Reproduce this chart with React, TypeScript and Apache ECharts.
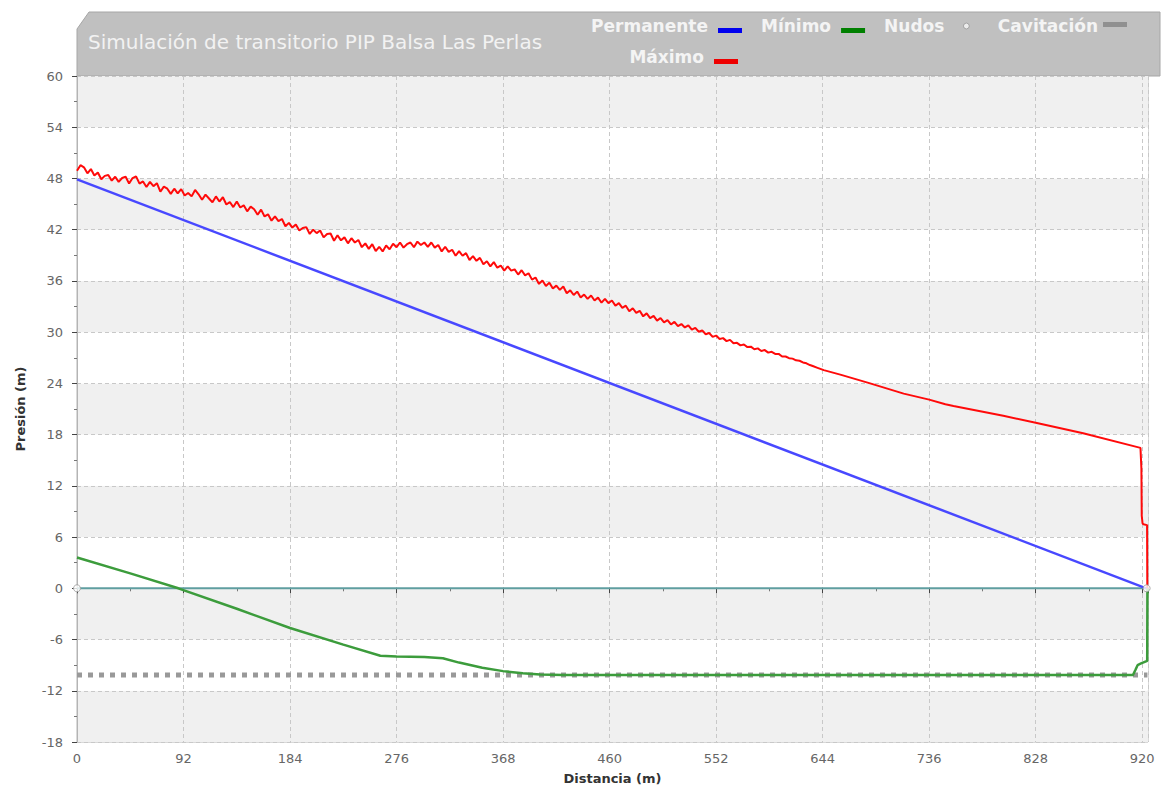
import React, { useEffect, useRef } from 'react';
import * as echarts from 'echarts';

const TITLE = 'Simulación de transitorio PIP Balsa Las Perlas';
const X_NAME = 'Distancia (m)';
const Y_NAME = 'Presión (m)';
const X_TICKS = [0, 92, 184, 276, 368, 460, 552, 644, 736, 828, 920];
const X_MIN = 0;
const X_MAX = 925;
const X_STEP = 92;
const Y_MIN = -18;
const Y_MAX = 60;
const Y_STEP = 6;

const SERIES_NAMES = ['Permanente', 'Mínimo', 'Nudos', 'Cavitación', 'Máximo'];

const permanente: [number, number][] = [[0, 47.9], [923.5, 0]];

const minimo: [number, number][] = [
  [0, 3.6], [46, 1.75], [87.5, 0], [138, -2.4], [184, -4.65], [230, -6.6],
  [262, -7.9], [276, -8.0], [300, -8.05], [316, -8.2], [330, -8.7], [350, -9.3],
  [368, -9.7], [385, -9.95], [400, -10.1], [420, -10.15], [912, -10.15],
  [914, -9.6], [916, -9.0], [919, -8.8], [924.3, -8.5], [924.5, 0],
];

const nudos: [number, number][] = [[0, 0], [923.8, 0]];

const cavitacion: [number, number][] = [[0, -10.15], [924.5, -10.15]];

const cotaCero: [number, number][] = [[0, 0], [924.5, 0]];

const maximo: [number, number][] = [
  [0, 48.9], [3, 49.55], [6, 49.3], [9, 48.6], [12, 49.1], [15, 48.35], [18, 48.7], [21, 47.9],
  [24, 48.3], [27, 48.4], [30, 47.75], [33, 48.2], [36, 47.6], [39, 48.05], [42, 48.2], [45, 47.4],
  [48, 48.05], [51, 48.25], [54, 47.4], [57, 47.65], [60, 47.0], [63, 47.6], [66, 47.1], [69, 47.45],
  [72, 46.45], [75, 47.05], [78, 46.8], [81, 46.2], [84, 46.8], [87, 46.25], [90, 46.75], [93, 46.0],
  [96, 46.3], [99, 45.9], [102, 46.65], [105, 46.15], [108, 45.5], [111, 46.1], [114, 45.65], [117, 45.2],
  [120, 45.9], [123, 45.3], [126, 45.8], [129, 44.95], [132, 45.25], [135, 44.65], [138, 45.3], [141, 44.6],
  [144, 44.85], [147, 44.15], [150, 44.7], [153, 44.4], [156, 43.75], [159, 44.35], [162, 43.55], [165, 43.8],
  [168, 43.05], [171, 43.55], [174, 43.0], [177, 43.25], [180, 42.4], [183, 42.8], [186, 42.25], [189, 42.6],
  [192, 41.9], [195, 42.2], [198, 42.3], [201, 41.5], [204, 42.0], [207, 41.6], [210, 41.9], [213, 41.1],
  [216, 41.5], [219, 41.55], [222, 40.7], [225, 41.35], [228, 40.75], [231, 41.1], [234, 40.4], [237, 41.0],
  [240, 40.5], [243, 40.8], [246, 39.95], [249, 40.4], [252, 39.75], [255, 40.3], [258, 39.5], [261, 40.0],
  [264, 39.45], [267, 40.15], [270, 39.7], [273, 40.35], [276, 39.95], [279, 40.5], [282, 39.9], [285, 40.3],
  [288, 40.5], [291, 39.95], [294, 40.6], [297, 40.2], [300, 40.5], [303, 40.0], [306, 40.5], [309, 39.9],
  [312, 40.2], [315, 39.45], [318, 40.0], [321, 39.4], [324, 39.65], [327, 38.95], [330, 39.5], [333, 38.95],
  [336, 39.25], [339, 38.45], [342, 38.9], [345, 38.35], [348, 38.7], [351, 37.95], [354, 38.3], [357, 37.7],
  [360, 38.2], [363, 37.55], [366, 37.8], [369, 37.2], [372, 37.7], [375, 37.2], [378, 37.35], [381, 36.75],
  [384, 37.25], [387, 36.65], [390, 36.9], [393, 36.15], [396, 36.4], [399, 35.65], [402, 36.05], [405, 35.4],
  [408, 35.8], [411, 35.1], [414, 35.45], [417, 34.95], [420, 35.35], [423, 34.55], [426, 34.9], [429, 34.35],
  [432, 34.75], [435, 34.05], [438, 34.4], [441, 33.9], [444, 34.3], [447, 33.7], [450, 34.05], [453, 33.45],
  [456, 33.9], [459, 33.4], [462, 33.7], [465, 33.1], [468, 33.4], [471, 32.85], [474, 33.1], [477, 32.45],
  [480, 32.8], [483, 32.25], [486, 32.5], [489, 31.85], [492, 32.2], [495, 31.65], [498, 31.9], [501, 31.35],
  [504, 31.65], [507, 31.15], [510, 31.4], [513, 30.9], [516, 31.2], [519, 30.7], [522, 30.95], [525, 30.55],
  [528, 30.8], [531, 30.3], [534, 30.5], [537, 30.05], [540, 30.2], [543, 29.75], [546, 29.9], [549, 29.45],
  [552, 29.6], [555, 29.2], [558, 29.3], [561, 28.95], [564, 29.1], [567, 28.7], [570, 28.75], [573, 28.45],
  [576, 28.55], [579, 28.25], [582, 28.3], [585, 28.0], [588, 28.1], [591, 27.8], [594, 27.9], [597, 27.6],
  [600, 27.7], [603, 27.45], [606, 27.45], [609, 27.15], [612, 27.15], [615, 26.95], [618, 26.9], [621, 26.7],
  [624, 26.65], [627, 26.45], [630, 26.35], [633, 26.15], [636, 26.0], [639, 25.85], [642, 25.7], [645, 25.55],
  [660, 25.0], [685, 24.0], [714, 22.8], [736, 22.1], [750, 21.55], [757, 21.35], [800, 20.2], [828, 19.4],
  [869, 18.15], [918.5, 16.45], [919.3, 14.0], [919.6, 8.5], [920.3, 7.6], [921, 7.5], [924.2, 7.4], [924.4, 0],
];

const FONT = 'DejaVu Sans';

export default function App() {
  const ref = useRef<HTMLDivElement>(null);

  useEffect(() => {
    if (!ref.current) return;
    const chart = echarts.init(ref.current, null, { renderer: 'svg' });

    const legendText = {
      color: '#f4f4f4',
      fontFamily: FONT,
      fontWeight: 'bold' as const,
      fontSize: 17,
    };
    const rectLow = 'path://M0 0 M5 9 L29 9 L29 14 L5 14 Z';
    const rectHigh = 'path://M0 0 M0 3 L24 3 L24 8 L0 8 Z M29 14';
    const dot = 'path://M0 0 M20 7 L19.1 9.1 L17 10 L14.9 9.1 L14 7 L14.9 4.9 L17 4 L19.1 4.9 Z M29 14';

    const option: any = {
      animation: false,
      backgroundColor: '#ffffff',
      textStyle: { fontFamily: FONT },
      graphic: [
        {
          type: 'polygon',
          z: 0,
          shape: { points: [[77, 29], [89, 12], [1160, 12], [1160, 76], [77, 76]] },
          style: { fill: '#c0c0c0', stroke: '#a6a6a6', lineWidth: 1 },
        },
        {
          type: 'text',
          z: 1,
          x: 88,
          y: 42,
          style: {
            text: TITLE,
            fill: '#f2f2f2',
            font: `20px "${FONT}"`,
            verticalAlign: 'middle',
          },
        },
      ],
      legend: [
        {
          data: [
            { name: SERIES_NAMES[0], icon: rectLow, itemStyle: { color: '#0000ee' } },
            { name: SERIES_NAMES[1], icon: rectLow, itemStyle: { color: '#008000' } },
            { name: SERIES_NAMES[2], icon: dot, itemStyle: { color: '#f6f6f6', borderColor: '#999', borderWidth: 1 } },
            { name: SERIES_NAMES[3], icon: rectHigh, itemStyle: { color: '#909090' } },
          ],
          right: 34,
          top: 17.5,
          padding: 0,
          itemGap: 19,
          itemWidth: 29,
          itemHeight: 14,
          align: 'right',
          selectedMode: false,
          textStyle: legendText,
        },
        {
          data: [{ name: SERIES_NAMES[4], icon: rectLow, itemStyle: { color: '#ee0000' } }],
          right: 428,
          top: 48.5,
          padding: 0,
          itemWidth: 29,
          itemHeight: 14,
          align: 'right',
          selectedMode: false,
          textStyle: legendText,
        },
      ],
      grid: {
        left: 77,
        top: 76,
        right: 18,
        bottom: 51,
        show: true,
        borderColor: '#b4b4b4',
        borderWidth: 1,
        backgroundColor: 'transparent',
      },
      xAxis: {
        type: 'value',
        min: X_MIN,
        max: X_MAX,
        interval: X_STEP,
        name: X_NAME,
        nameLocation: 'middle',
        nameGap: 30,
        nameTextStyle: { color: '#333', fontWeight: 'bold', fontSize: 13, fontFamily: FONT },
        axisLine: { show: true, lineStyle: { color: '#b4b4b4', width: 1 } },
        axisTick: { show: true, length: 5, lineStyle: { color: '#444' } },
        minorTick: { show: true, splitNumber: 2, length: 3, lineStyle: { color: '#777' } },
        axisLabel: {
          color: '#666',
          fontSize: 13,
          fontFamily: FONT,
          margin: 10,
          showMaxLabel: true,
          formatter: (v: number) => (X_TICKS.indexOf(v) >= 0 ? String(v) : ''),
        },
        splitLine: { show: true, lineStyle: { color: '#c8c8c8', type: [4, 3] } },
        minorSplitLine: { show: false },
      },
      yAxis: {
        type: 'value',
        min: Y_MIN,
        max: Y_MAX,
        interval: Y_STEP,
        name: Y_NAME,
        nameLocation: 'middle',
        nameGap: 50,
        nameTextStyle: { color: '#333', fontWeight: 'bold', fontSize: 13, fontFamily: FONT },
        axisLine: { show: true, lineStyle: { color: '#b4b4b4', width: 1 } },
        axisTick: { show: true, length: 5, lineStyle: { color: '#444' } },
        minorTick: { show: true, splitNumber: 2, length: 3, lineStyle: { color: '#777' } },
        axisLabel: { color: '#666', fontSize: 13, fontFamily: FONT, margin: 14 },
        splitLine: { show: true, lineStyle: { color: '#c8c8c8', type: [4, 3] } },
        splitArea: { show: true, areaStyle: { color: ['#f0f0f0', '#ffffff'] } },
      },
      series: [
        {
          name: 'cota',
          type: 'line',
          data: cotaCero,
          showSymbol: false,
          lineStyle: { color: '#5f9ea0', width: 2 },
          z: 2,
        },
        {
          name: SERIES_NAMES[3],
          type: 'line',
          data: cavitacion,
          showSymbol: false,
          itemStyle: { color: '#909090' },
          lineStyle: { color: '#999999', width: 5, type: [5, 6] },
          z: 3,
        },
        {
          name: SERIES_NAMES[1],
          type: 'line',
          data: minimo,
          showSymbol: false,
          itemStyle: { color: '#008000' },
          lineStyle: { color: '#3c9c3c', width: 2.5 },
          z: 4,
        },
        {
          name: SERIES_NAMES[0],
          type: 'line',
          data: permanente,
          showSymbol: false,
          itemStyle: { color: '#0000ee' },
          lineStyle: { color: '#4848ff', width: 2.5 },
          z: 5,
        },
        {
          name: SERIES_NAMES[4],
          type: 'line',
          data: maximo,
          showSymbol: false,
          itemStyle: { color: '#ee0000' },
          lineStyle: { color: '#ff0a0a', width: 2 },
          z: 6,
        },
        {
          name: SERIES_NAMES[2],
          type: 'scatter',
          data: nudos,
          symbol: 'circle',
          symbolSize: 7,
          itemStyle: { color: '#ffffff', borderColor: '#999', borderWidth: 1 },
          z: 7,
        },
      ],
    };

    chart.setOption(option);
    return () => chart.dispose();
  }, []);

  return (
    <div
      ref={ref}
      style={{ position: 'fixed', left: 0, top: 0, width: 1166, height: 793, background: '#fff' }}
    />
  );
}
